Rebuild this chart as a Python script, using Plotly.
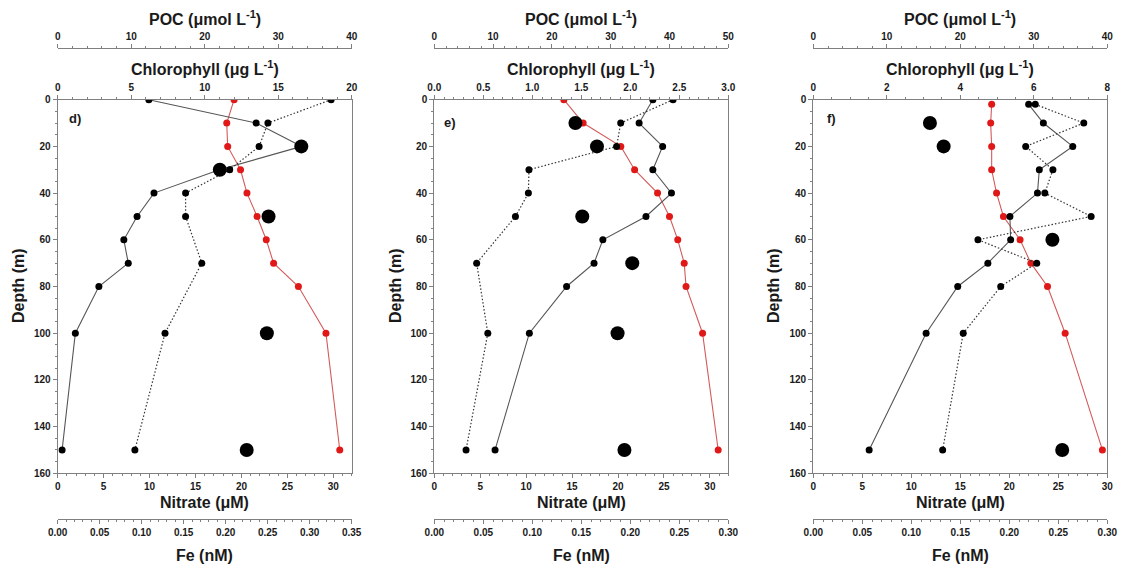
import plotly.graph_objects as go

# ---------------- data ----------------
# Panel d
d_chl_depth = [0, 10, 20, 30, 40, 50, 60, 70, 80, 100, 150]
d_chl = [6.2, 13.5, 16.6, 11.0, 6.55, 5.4, 4.5, 4.8, 2.8, 1.2, 0.3]
d_poc_depth = [0, 10, 20, 30, 40, 50, 70, 100, 150]
d_poc = [37.2, 28.6, 27.4, 23.4, 17.4, 17.4, 19.6, 14.6, 10.5]
d_no3_depth = [0, 10, 20, 30, 40, 50, 60, 70, 80, 100, 150]
d_no3 = [19.2, 18.4, 18.5, 19.9, 20.6, 21.7, 22.7, 23.5, 26.2, 29.2, 30.7]
d_fe_depth = [20, 30, 50, 100, 150]
d_fe = [0.290, 0.193, 0.251, 0.249, 0.225]

# Panel e
e_chl_depth = [0, 10, 20, 30, 40, 50, 60, 70, 80, 100, 150]
e_chl = [2.23, 2.09, 2.33, 2.23, 2.42, 2.16, 1.72, 1.63, 1.35, 0.97, 0.62]
e_poc_depth = [0, 10, 20, 30, 40, 50, 70, 100, 150]
e_poc = [40.6, 31.7, 31.0, 16.1, 16.0, 13.8, 7.2, 9.1, 5.4]
e_no3_depth = [0, 10, 20, 30, 40, 50, 60, 70, 80, 100, 150]
e_no3 = [14.1, 16.2, 20.3, 21.8, 24.3, 25.6, 26.5, 27.2, 27.4, 29.2, 30.9]
e_fe_depth = [10, 20, 50, 70, 100, 150]
e_fe = [0.144, 0.166, 0.151, 0.202, 0.187, 0.194]

# Panel f
f_chl_depth = [2, 10, 20, 30, 40, 50, 60, 70, 80, 100, 150]
f_chl = [5.86, 6.26, 7.06, 6.15, 6.10, 5.35, 5.37, 4.75, 3.93, 3.07, 1.52]
f_poc_depth = [2, 10, 20, 30, 40, 50, 60, 70, 80, 100, 150]
f_poc = [30.2, 36.8, 28.9, 32.6, 31.5, 37.8, 22.4, 30.4, 25.5, 20.4, 17.6]
f_no3_depth = [2, 10, 20, 30, 40, 50, 60, 70, 80, 100, 150]
f_no3 = [18.2, 18.1, 18.2, 18.2, 18.7, 19.4, 21.1, 22.2, 23.9, 25.7, 29.5]
f_fe_depth = [10, 20, 60, 150]
f_fe = [0.119, 0.133, 0.244, 0.254]

panel_labels = ["d)", "e)", "f)"]
chl_ranges = [[0, 20], [0, 3], [0, 8]]
chl_dticks = [5, 0.5, 2]
chl_minor = [1, 0.1, 0.5]
chl_formats = ["", ".1f", ""]
poc_ranges = [[0, 40], [0, 50], [0, 40]]
no3_ranges = [[0, 32], [0, 32], [0, 30]]
fe_ranges = [[0, 0.35], [0, 0.30], [0, 0.30]]
depth_range = [160, 0]
depth_ticks = [0, 20, 40, 60, 80, 100, 120, 140, 160]

panels = [
    (d_chl_depth, d_chl, d_poc_depth, d_poc, d_no3_depth, d_no3, d_fe_depth, d_fe),
    (e_chl_depth, e_chl, e_poc_depth, e_poc, e_no3_depth, e_no3, e_fe_depth, e_fe),
    (f_chl_depth, f_chl, f_poc_depth, f_poc, f_no3_depth, f_no3, f_fe_depth, f_fe),
]

# ---------------- layout geometry ----------------
W, H = 1122, 569
px_x = [(57.7, 351.7), (434.3, 728.3), (813.3, 1107.3)]
y_top_px, y_bot_px = 99.7, 473.3
poc_line_px = 47.7
fe_line_px = 519.0

def fx(p):
    return p / W

def fy(p):
    return 1 - p / H

FONT = "Liberation Sans, Arial, sans-serif"
AXC = "#808080"
TXT = "#1a1a1a"
tickfont = dict(family=FONT, size=10, color=TXT, weight="bold")

fig = go.Figure()
layout = dict(
    template="none",
    width=W, height=H,
    margin=dict(l=0, r=0, t=0, b=0, pad=0, autoexpand=False),
    paper_bgcolor="white", plot_bgcolor="white",
    showlegend=False,
    annotations=[],
)

ydom = [fy(y_bot_px), fy(y_top_px)]

for i, (cd, cv, pd_, pv, nd, nv, fd, fv) in enumerate(panels):
    base = 4 * i
    xn, xc, xp, xf = [f"x{base + k}" if base + k > 1 else "x" for k in (1, 2, 3, 4)]
    yname = "y" if i == 0 else f"y{i + 1}"
    dom = [fx(px_x[i][0]), fx(px_x[i][1])]

    def lk(a):
        return "xaxis" if a == "x" else "xaxis" + a[1:]

    common = dict(showgrid=False, zeroline=False, linecolor=AXC, linewidth=1.2,
                  tickcolor=AXC, ticklen=4, tickwidth=1, tickfont=tickfont,
                  showline=True, domain=dom, automargin=False)
    # nitrate (bottom, main)
    layout[lk(xn)] = dict(common, range=no3_ranges[i], dtick=5, tick0=0,
                          side="bottom", anchor=yname, ticks="outside",
                          minor=dict(dtick=1, ticklen=2, tickcolor=AXC, ticks="outside"))
    # chlorophyll (top of plot box)
    layout[lk(xc)] = dict(common, range=chl_ranges[i], dtick=chl_dticks[i], tick0=0,
                          tickformat=chl_formats[i],
                          side="top", anchor=yname, overlaying=xn, ticks="outside",
                          minor=dict(dtick=chl_minor[i], ticklen=2, tickcolor=AXC, ticks="outside"))
    # POC (free top)
    layout[lk(xp)] = dict(common, range=poc_ranges[i], dtick=10, tick0=0,
                          side="top", anchor="free", position=fy(poc_line_px),
                          overlaying=xn, ticks="outside",
                          minor=dict(dtick=2, ticklen=2, tickcolor=AXC, ticks="outside"))
    # Fe (free bottom)
    layout[lk(xf)] = dict(common, range=fe_ranges[i], dtick=0.05, tick0=0,
                          tickformat=".2f",
                          side="bottom", anchor="free", position=fy(fe_line_px),
                          overlaying=xn, ticks="outside",
                          minor=dict(dtick=0.01, ticklen=2, tickcolor=AXC, ticks="outside"))
    # depth
    layout["yaxis" if i == 0 else f"yaxis{i + 1}"] = dict(
        domain=ydom, range=depth_range, tickvals=depth_ticks, anchor=xn,
        showgrid=False, zeroline=False, showline=True, mirror=True,
        linecolor=AXC, linewidth=1.2, ticks="outside", ticklen=4,
        tickcolor=AXC, tickfont=tickfont, automargin=False,
        minor=dict(dtick=5, ticklen=2, tickcolor=AXC, ticks="outside"))

    # traces
    fig.add_trace(go.Scatter(x=pv, y=pd_, xaxis=xp, yaxis=yname, mode="lines+markers",
                             line=dict(color="#333333", width=1.2, dash="1.5px,2px"),
                             marker=dict(color="black", size=7)))
    fig.add_trace(go.Scatter(x=cv, y=cd, xaxis=xc, yaxis=yname, mode="lines+markers",
                             line=dict(color="#555555", width=1.1),
                             marker=dict(color="black", size=7)))
    fig.add_trace(go.Scatter(x=nv, y=nd, xaxis=xn, yaxis=yname, mode="lines+markers",
                             line=dict(color="#d45a5a", width=1.1),
                             marker=dict(color="#e01818", size=7)))
    fig.add_trace(go.Scatter(x=fv, y=fd, xaxis=xf, yaxis=yname, mode="markers",
                             marker=dict(color="black", size=14)))

    cx = (px_x[i][0] + px_x[i][1]) / 2 / W
    tf = dict(family=FONT, size=16, color=TXT, weight="bold")
    for txt, ypx in [("POC (μmol L<sup>-1</sup>)", 18),
                     ("Chlorophyll (μg L<sup>-1</sup>)", 68),
                     ("Nitrate (μM)", 502),
                     ("Fe (nM)", 555)]:
        layout["annotations"].append(dict(text=txt, x=cx, y=fy(ypx), xref="paper", yref="paper",
                                          showarrow=False, xanchor="center", yanchor="middle",
                                          font=tf))
    # depth title
    depth_x = [18, 395, 773][i]
    layout["annotations"].append(dict(text="Depth (m)", x=fx(depth_x), y=fy(286), xref="paper",
                                      yref="paper", showarrow=False, textangle=-90,
                                      xanchor="center", yanchor="middle", font=tf))
    # panel label
    lab_dx = [17, 16, 18][i]
    lab_y = [118, 122, 119][i]
    layout["annotations"].append(dict(text=panel_labels[i], x=fx(px_x[i][0] + lab_dx), y=fy(lab_y),
                                      xref="paper", yref="paper", showarrow=False,
                                      xanchor="center", yanchor="middle",
                                      font=dict(family=FONT, size=13, color=TXT, weight="bold")))

fig.update_layout(**layout)
fig.write_html("out.html")
